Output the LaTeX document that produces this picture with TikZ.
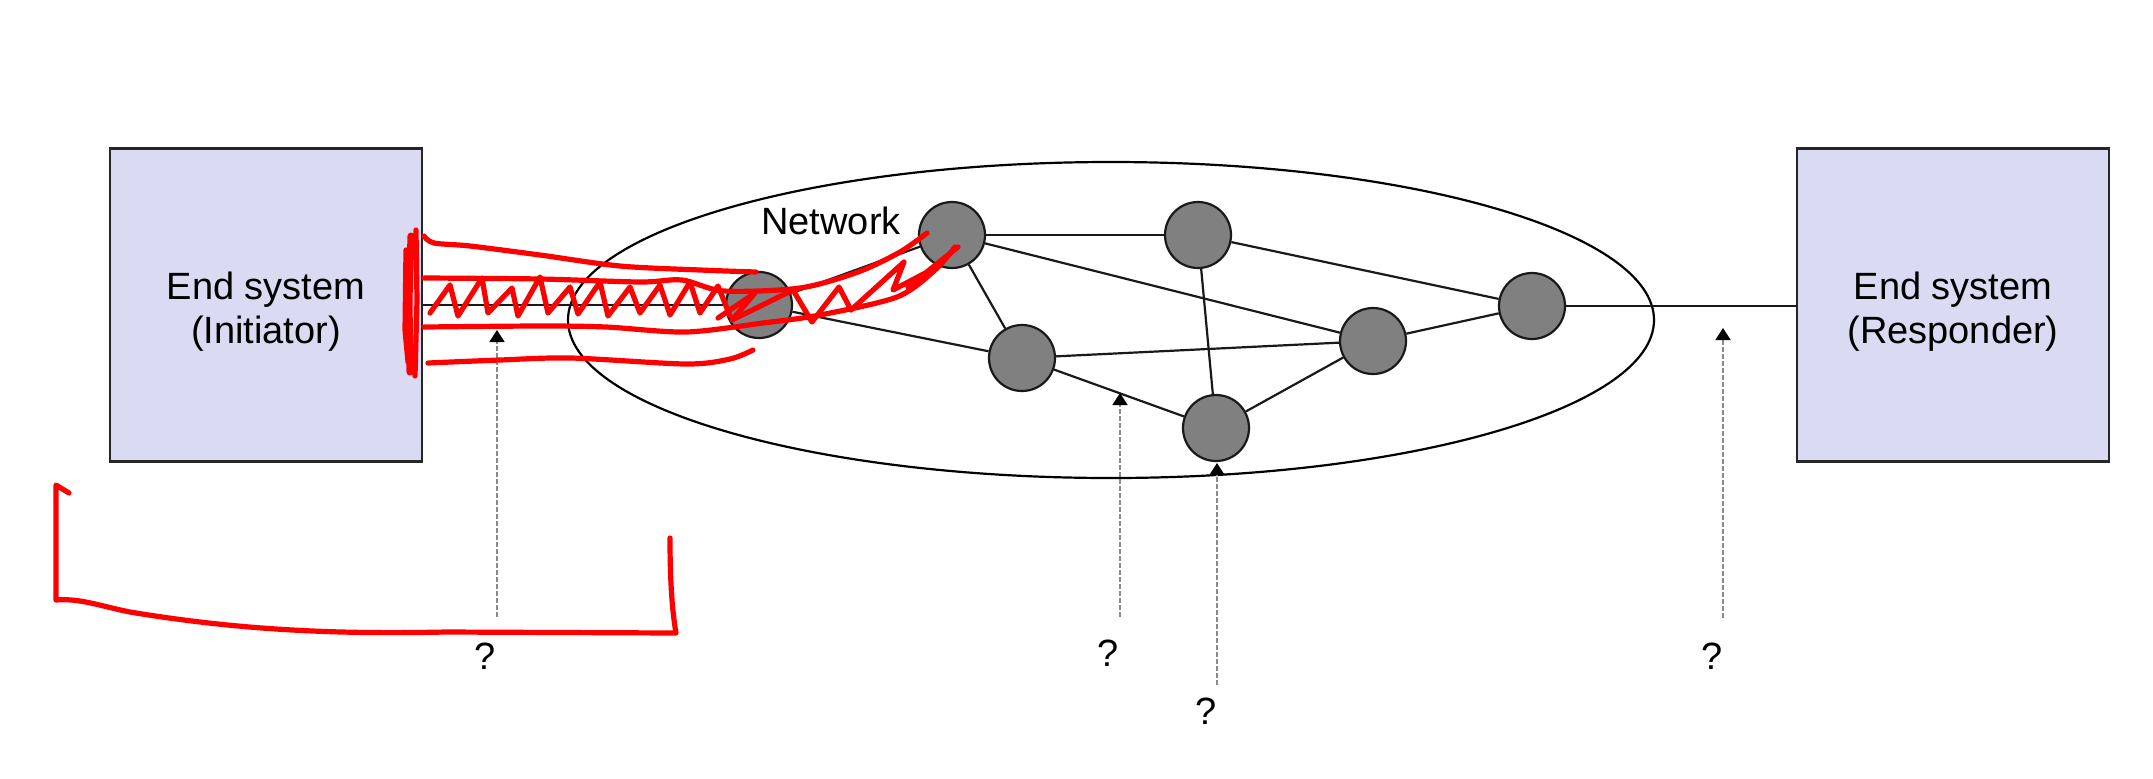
\documentclass[tikz,border=0pt]{standalone}
\usepackage{fontspec}
\setmainfont{Liberation Sans}
\usetikzlibrary{shapes.geometric,arrows.meta}
\definecolor{boxfill}{HTML}{DADAF3}
\definecolor{nodegray}{HTML}{808080}
\definecolor{probegray}{HTML}{8A8A8A}
\definecolor{penred}{HTML}{FF0000}
\begin{document}
\begin{tikzpicture}[x=0.5pt,y=-0.5pt,
  font=\fontsize{19}{22}\selectfont,
  esys/.style={draw=black!85, line width=1.3pt, fill=boxfill, minimum width=156pt, minimum height=156.5pt, inner sep=0pt},
  esyslabel/.style={align=center, yshift=-3.5pt},
  netnode/.style={circle, draw=black!90, line width=1.1pt, fill=nodegray, minimum size=33pt, inner sep=0pt},
  link/.style={draw=black!90, line width=1.1pt},
  probe/.style={draw=probegray, line width=0.9pt, dash pattern=on 2.5pt off 1pt, -{Triangle[width=7.5pt,length=6pt,color=black]}},
  redpen/.style={draw=penred, line width=2.6pt, line cap=round, line join=round}]
\useasboundingbox (0,0) rectangle (2153,778);

% end systems
\node[esys, label={[esyslabel]center:End system\\(Initiator)}] (init) at (266,305) {};
\node[esys, label={[esyslabel]center:End system\\(Responder)}] (resp) at (1953,305) {};

% network cloud
\node[draw, ellipse, line width=1.1pt, minimum width=543pt, minimum height=158pt, inner sep=0pt] (net) at (1111,320) {};
\node (netlabel) at (831,221) {Network};

% network nodes
\node[netnode] (n0) at (759,305) {};
\node[netnode] (n1) at (952,235) {};
\node[netnode] (n2) at (1198,235) {};
\node[netnode] (n3) at (1532,306) {};
\node[netnode] (n4) at (1373,341) {};
\node[netnode] (n5) at (1022,358) {};
\node[netnode] (n6) at (1216,428) {};

% links
\draw[link] (init.east |- n0) -- (n0);
\draw[link] (n0) -- (n1);
\draw[link] (n0) -- (n5);
\draw[link] (n1) -- (n2);
\draw[link] (n1) -- (n4);
\draw[link] (n1) -- (n5);
\draw[link] (n2) -- (n3);
\draw[link] (n2) -- (n6);
\draw[link] (n5) -- (n4);
\draw[link] (n5) -- (n6);
\draw[link] (n6) -- (n4);
\draw[link] (n4) -- (n3);
\draw[link] (n3) -- (n3 -| resp.west);

% probes
\node (q1) at (485,656) {?};
\node (q2) at (1108,653) {?};
\node (q3) at (1206,711) {?};
\node (q4) at (1712,656) {?};
\coordinate (p1b) at (497,617); \coordinate (p1t) at (497,330);
\coordinate (p2b) at (1120,617); \coordinate (p2t) at (1120,393);
\coordinate (p3b) at (1217,685); \coordinate (p3t) at (1217,463);
\coordinate (p4b) at (1723,618); \coordinate (p4t) at (1723,328);
\draw[probe] (p1b) -- (p1t);
\draw[probe] (p2b) -- (p2t);
\draw[probe] (p3b) -- (p3t);
\draw[probe] (p4b) -- (p4t);

% red hand annotations
\draw[redpen, line width=3.5pt] (411,236) -- (409,300) -- (410,372);
\draw[redpen] (416,230) -- (417,300) -- (415,376);
\draw[redpen] (406,250) -- (405,330) -- (408,362);
\draw[redpen] plot[smooth] coordinates {(424,236) (434,243) (470,246) (540,255) (620,266) (700,270) (756,272)};
\draw[redpen] plot[smooth] coordinates {(424,278) (540,279) (640,282) (682,280) (724,291) (800,288) (858,272) (900,252) (927,233)};
\draw[redpen] plot[smooth] coordinates {(424,327) (540,326) (606,327) (686,332) (763,323) (820,315) (897,297) (935,270) (955,247)};
\draw[redpen] plot[smooth] coordinates {(428,363) (500,360) (571,358) (686,364) (730,359) (753,350)};
\draw[redpen] (430,313) -- (450,285) -- (458,316) -- (482,278) -- (488,313) -- (512,288) -- (518,316) -- (540,277) -- (548,313) -- (570,287) -- (578,314) -- (600,282) -- (608,316) -- (630,287) -- (640,313) -- (660,285) -- (670,315) -- (690,282) -- (700,313) -- (718,286) -- (730,316);
\draw[redpen] (718,318) -- (755,293) -- (732,320) -- (793,290) -- (812,322) -- (839,287) -- (851,310) -- (904,262) -- (893,290) -- (931,270) -- (908,287) -- (958,247);
\draw[redpen] (69,493) -- (56,485) -- (56,600) .. controls (80,598) and (100,606) .. (130,612) .. controls (250,632) and (350,634) .. (446,632) -- (676,633) .. controls (672,610) and (670,580) .. (670,538);
\end{tikzpicture}
\end{document}
